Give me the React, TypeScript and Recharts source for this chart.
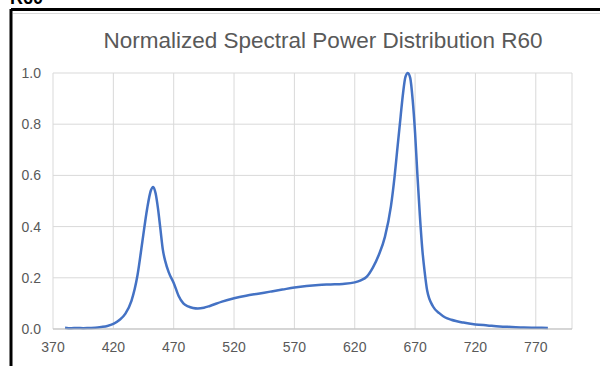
import React from 'react';
import {
  LineChart,
  Line,
  XAxis,
  YAxis,
  CartesianGrid,
} from 'recharts';

const wavelengths = [
  380, 385, 390, 395, 400, 405, 410, 415, 420, 425, 430, 435, 440, 444, 448, 451, 453, 455, 457, 459,
  461, 463, 466, 470, 474, 478, 482, 486, 490, 495, 500, 510, 520, 530, 540, 550, 560, 570, 580, 590,
  600, 610, 620, 625, 630, 635, 640, 645, 650, 653, 655, 658, 660, 662, 664, 666, 668, 670, 672, 674,
  676, 678, 680, 685, 690, 695, 700, 710, 720, 730, 740, 750, 760, 770, 780,
];

const power = [
  0.005, 0.003, 0.004, 0.003, 0.004, 0.005, 0.008, 0.012, 0.02, 0.035, 0.06, 0.11, 0.21, 0.34, 0.47, 0.54, 0.555, 0.53, 0.47, 0.39,
  0.31, 0.265, 0.22, 0.18, 0.13, 0.1, 0.088, 0.082, 0.08, 0.083, 0.09, 0.107, 0.12, 0.13, 0.138, 0.146, 0.154, 0.162, 0.168, 0.172,
  0.174, 0.176, 0.182, 0.19, 0.205, 0.24, 0.29, 0.36, 0.48, 0.595, 0.69, 0.83, 0.92, 0.985, 1.0, 0.98, 0.895, 0.765, 0.595, 0.44,
  0.31, 0.22, 0.15, 0.087, 0.062, 0.045, 0.036, 0.025, 0.018, 0.014, 0.01, 0.008, 0.006, 0.005, 0.004,
];

const xTicks = [370, 420, 470, 520, 570, 620, 670, 720, 770];
const yTicks = [0, 0.2, 0.4, 0.6, 0.8, 1.0];

const chartData = wavelengths.map((wl, i) => ({ wl, value: power[i] }));

const font = '"Liberation Sans", Arial, sans-serif';
const gray = '#595959';

export default function App() {
  return (
    <div style={{ position: 'fixed', left: 0, top: 0, width: 600, height: 366, background: '#fff', overflow: 'hidden' }}>
      <LineChart
        width={600}
        height={366}
        data={chartData}
        margin={{ top: 73, right: 28, bottom: 7, left: 0 }}
        style={{ position: 'absolute', left: 0, top: 0 }}
      >
        <CartesianGrid stroke="#d9d9d9" strokeWidth={1} />
        <XAxis
          dataKey="wl"
          type="number"
          domain={[370, 800]}
          ticks={xTicks}
          height={30}
          tickSize={0}
          tickMargin={13}
          axisLine={{ stroke: '#bfbfbf' }}
          tick={{ fill: gray, fontSize: 14, fontFamily: font }}
          interval={0}
        />
        <YAxis
          type="number"
          domain={[0, 1]}
          ticks={yTicks}
          width={53}
          tickSize={0}
          tickMargin={12}
          axisLine={false}
          tickFormatter={(v: number) => v.toFixed(1)}
          tick={{ fill: gray, fontSize: 14, fontFamily: font }}
          interval={0}
        />
        <Line
          type="monotone"
          dataKey="value"
          stroke="#4472c4"
          strokeWidth={2.5}
          dot={false}
          isAnimationActive={false}
        />
      </LineChart>
      <svg width={600} height={366} style={{ position: 'absolute', left: 0, top: 0, pointerEvents: 'none' }}>
        <text x={10} y={4} fontFamily={font} fontWeight="bold" fontSize={18} fill="#000">R60</text>
        <line x1={11} y1={9.5} x2={600} y2={9.5} stroke="#000" strokeWidth={3} />
        <line x1={11} y1={9} x2={11} y2={366} stroke="#000" strokeWidth={3} />
        <line x1={13} y1={13.5} x2={600} y2={13.5} stroke="#d9d9d9" strokeWidth={1} />
        <text x={323} y={48} textAnchor="middle" fontFamily={font} fontSize={22.5} fill={gray}>
          Normalized Spectral Power Distribution R60
        </text>
      </svg>
    </div>
  );
}
